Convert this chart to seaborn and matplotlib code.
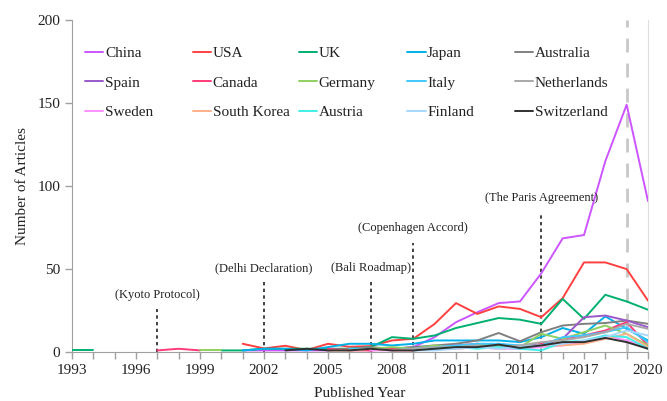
import pandas as pd
import seaborn as sns
import matplotlib.pyplot as plt
from matplotlib.lines import Line2D
from matplotlib.legend import Legend
from matplotlib.ticker import MultipleLocator

years = list(range(1993, 2021))
countries = ['China', 'USA', 'UK', 'Japan', 'Australia',
             'Spain', 'Canada', 'Germany', 'Italy', 'Netherlands',
             'Sweden', 'South Korea', 'Austria', 'Finland', 'Switzerland']
colors = ['#cc55ff', '#ff4040', '#00b070', '#00b0e8', '#808080',
          '#9b59c9', '#ff3a78', '#8fd060', '#40c8ff', '#a8a8a8',
          '#ff90ff', '#ffb08a', '#40f0e8', '#a8d8ff', '#303030']

N = None
# values 1993 ... 2020 (None = no articles / no line)
china = [N, N, N, N, N, N, N, N, 1, 1, 1, 1, 1, 2, 1, 2, 3, 9, 18, 24, 29.5, 30.5, 47.5, 68.5, 70.5, 115, 149, 91]
usa = [N, N, N, N, N, N, N, N, 5, 2.2, 3.8, 1.2, 5, 3.2, 3.6, 7, 8, 17, 29.5, 23, 27.5, 26, 21, 32.5, 54, 54, 50, 31]
uk = [1, 1, N, N, N, N, N, 1, 1, 2, 2, 2, 2, 2, 3, 9, 8, 10, 14.5, 17.5, 20.5, 19.5, 17, 32, 20, 34.5, 30.5, 25.5]
japan = [N, N, N, N, N, N, N, N, 1, 2, 2, 1, 3, 5, 5, 4, 5, 7, 7, 7, 7, 6, 9, 14.5, 11, 21.5, 14, 7]
australia = [N, N, N, N, N, N, N, N, N, N, N, N, 1, 2, 3, 2, 3, 4, 5, 7, 11.5, 6.5, 12, 16, 17, 17.5, 19, 17]
spain = [N, N, N, N, N, N, N, N, N, N, N, N, N, N, N, 1, 2, 2, 3, 4, 5, 3, 4, 8, 21, 22, 19, 15]
canada = [N, N, N, N, 1, 2, 1, N, N, N, N, N, 2, 1, 1, 2, 1, 3, 4, 5, 4, 3, 5, 8, 10, 13, 18, 4]
germany = [N, N, N, N, N, N, 1, 1, N, N, N, N, N, 1, 2, 3, 2, 4, 3, 5, 4, 3, 11, 8, 12, 16, 11, 4]
italy = [N, N, N, N, N, N, N, N, N, N, N, N, N, 2, 2, 1, 2, 3, 4, 5, 5, 4, 4, 9, 10, 12, 15, 6]
netherlands = [N, N, N, N, N, N, N, N, N, N, N, N, N, N, N, 1, 2, 3, 3, 4, 3, 4, 6, 7, 9, 12, 17, 14]
sweden = [N, N, N, N, N, N, N, N, N, N, N, N, N, N, 1, 1, 1, 2, 2, 3, 2, 2, 3, 4, 6, 10, 7, 3]
south_korea = [N, N, N, N, N, N, N, N, N, N, N, N, 1, 1, 2, 1, 1, 2, 2, 3, 2, 3, 4, 4, 5, 8, 11, 3]
austria = [N, N, N, N, N, N, N, N, N, N, N, N, N, N, N, N, 1, 2, 3, 2, 3, 2, 1, 6, 7, 10, 9, 2]
finland = [N, N, N, N, N, N, N, N, N, N, N, N, N, N, N, N, 1, 1, 2, 3, 2, 3, 4, 5, 7, 9, 13, 10]
switzerland = [N, N, N, N, N, N, N, N, N, N, 1, 2, 1, 1, 2, 1, 1, 2, 3, 3, 4.5, 2.5, 4, 6, 6, 8.5, 6, 2]

series = [china, usa, uk, japan, australia, spain, canada, germany, italy,
          netherlands, sweden, south_korea, austria, finland, switzerland]

events = ['(Kyoto Protocol)', '(Delhi Declaration)', '(Bali Roadmap)',
          '(Copenhagen Accord)', '(The Paris Agreement)']
event_years = [1997, 2002, 2007, 2009, 2015]
event_tops = [26, 42, 42, 66, 84]

# long table, one unit per unbroken run of years
rows = []
for name, vals in zip(countries, series):
    seg, prev = 0, False
    for yr, v in zip(years, vals):
        if v is None:
            prev = False
            continue
        if not prev:
            seg += 1
        rows.append({'country': name, 'year': yr, 'value': v, 'seg': f'{name}-{seg}'})
        prev = True
df = pd.DataFrame(rows)

sns.set_style('ticks')
plt.rcParams['font.family'] = ['Liberation Serif', 'DejaVu Serif']

fig = plt.figure(figsize=(6.67, 4.01), dpi=100)
ax = fig.add_axes([0.108, 0.122, 0.8635, 0.828])

ax.axvline(2019, color='#c8c8c8', lw=2, dashes=(5, 4), zorder=1)

sns.lineplot(data=df, x='year', y='value', hue='country', units='seg',
             estimator=None, hue_order=countries,
             palette=dict(zip(countries, colors)), linewidth=1.4,
             legend=False, ax=ax, zorder=3)

for txt, yr, top in zip(events, event_years, event_tops):
    ax.plot([yr, yr], [0, top], color='#222222', lw=1.2, dashes=(2, 2), zorder=2)
    ax.text(yr, top + 5, txt, ha='center', va='bottom', fontsize=9, color='#222222')

ax.set_xlim(1993, 2020)
ax.set_ylim(0, 200)
ax.set_xticks(range(1993, 2021, 3))
ax.xaxis.set_minor_locator(MultipleLocator(1))
ax.set_yticks(range(0, 201, 50))
ax.tick_params(axis='both', which='both', colors='#a0a0a0', labelcolor='#222222',
               labelsize=11, length=5, width=1)
ax.set_xlabel('Published Year', fontsize=11, color='#222222', labelpad=7)
ax.set_ylabel('Number of Articles', fontsize=11, color='#222222', labelpad=6)

sns.despine(ax=ax, top=True, right=False)
for side in ['left', 'bottom']:
    ax.spines[side].set_color('#a0a0a0')
ax.spines['right'].set_color('#dddddd')

# legend: five columns placed at fixed positions
col_x = [0.0226, 0.210, 0.394, 0.582, 0.769]
for c in range(5):
    idx = [c, c + 5, c + 10]
    handles = [Line2D([], [], color=colors[i], lw=1.4) for i in idx]
    leg = Legend(ax, handles, [countries[i] for i in idx], loc='upper left',
                 bbox_to_anchor=(col_x[c], 0.92), frameon=False,
                 fontsize=11, handlelength=1.2, handletextpad=0.1,
                 labelspacing=1.03, borderpad=0, borderaxespad=0,
                 labelcolor='#222222')
    ax.add_artist(leg)

fig.savefig('out.png', dpi=100)
